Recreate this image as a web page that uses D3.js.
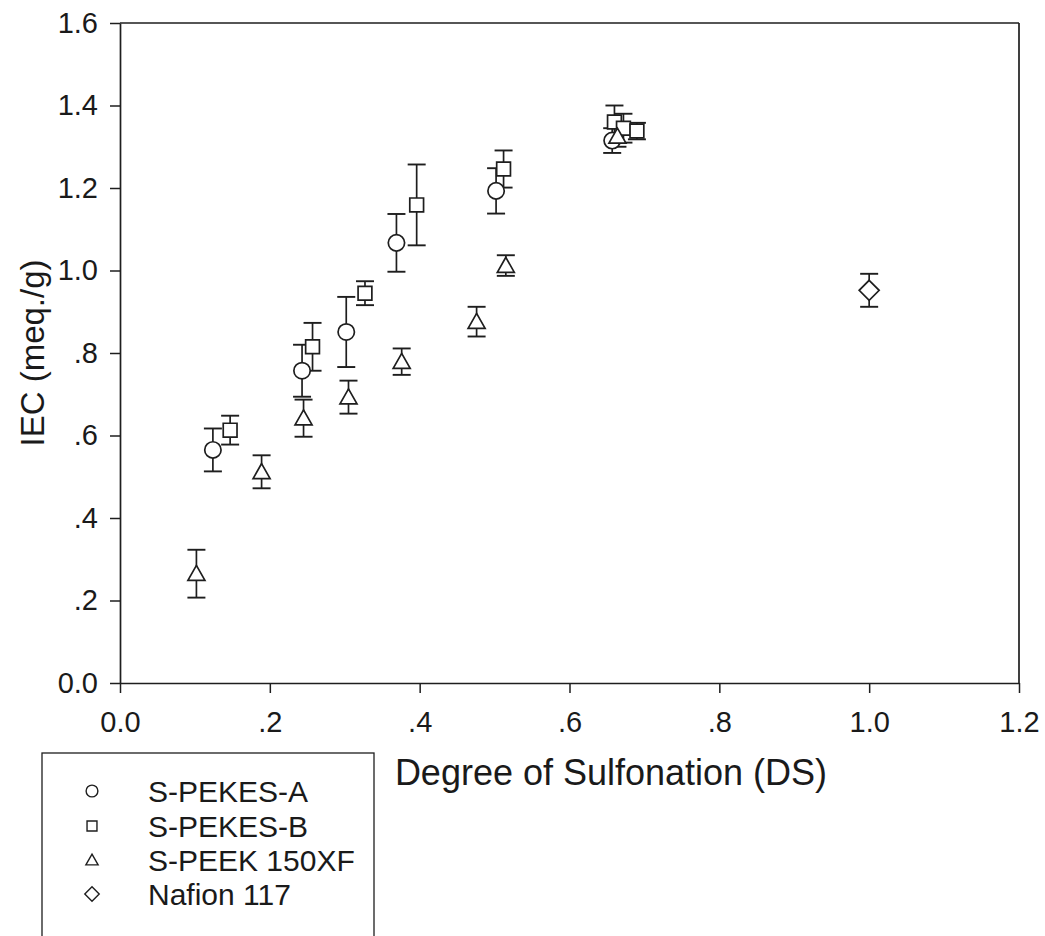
<!DOCTYPE html>
<html>
<head>
<meta charset="utf-8">
<script src="https://cdn.jsdelivr.net/npm/d3@7"></script>
<style>
  body { margin: 0; background: #fff; }
  svg { display: block; font-family: "Liberation Sans", Arial, sans-serif; }
</style>
</head>
<body>
<svg id="chart" width="1045" height="936"></svg>
<script>
// ---- data ----
const seriesNames = ["S-PEKES-A", "S-PEKES-B", "S-PEEK 150XF", "Nafion 117"];
const seriesSymbols = ["circle", "square", "triangle", "diamond"];

// S-PEKES-A : [DS, IEC, error]
const pekesA_ds  = [0.124, 0.243, 0.302, 0.369, 0.502, 0.657];
const pekesA_iec = [0.565, 0.757, 0.851, 1.067, 1.193, 1.315];
const pekesA_err = [0.052, 0.063, 0.085, 0.070, 0.055, 0.030];

// S-PEKES-B
const pekesB_ds  = [0.147, 0.257, 0.327, 0.396, 0.512, 0.660, 0.672, 0.690];
const pekesB_iec = [0.613, 0.815, 0.945, 1.159, 1.246, 1.360, 1.345, 1.338];
const pekesB_err = [0.035, 0.058, 0.029, 0.098, 0.045, 0.040, 0.035, 0.020];

// S-PEEK 150XF
const peek_ds  = [0.102, 0.189, 0.245, 0.305, 0.376, 0.476, 0.515, 0.664];
const peek_iec = [0.265, 0.512, 0.642, 0.693, 0.779, 0.876, 1.012, 1.325];
const peek_err = [0.058, 0.040, 0.045, 0.040, 0.032, 0.036, 0.025, 0.025];

// Nafion 117
const nafion_ds  = [1.0];
const nafion_iec = [0.952];
const nafion_err = [0.040];

const xTickValues = [0, 0.2, 0.4, 0.6, 0.8, 1.0, 1.2];
const xTickLabels = ["0.0", ".2", ".4", ".6", ".8", "1.0", "1.2"];
const yTickValues = [0, 0.2, 0.4, 0.6, 0.8, 1.0, 1.2, 1.4, 1.6];
const yTickLabels = ["0.0", ".2", ".4", ".6", ".8", "1.0", "1.2", "1.4", "1.6"];

const xTitle = "Degree of Sulfonation (DS)";
const yTitle = "IEC (meq./g)";

(function () {
// ---- build ----
function zip(ds, iec, err) { return ds.map((d, i) => ({ x: d, y: iec[i], e: err[i] })); }
const series = [
  zip(pekesA_ds, pekesA_iec, pekesA_err),
  zip(pekesB_ds, pekesB_iec, pekesB_err),
  zip(peek_ds, peek_iec, peek_err),
  zip(nafion_ds, nafion_iec, nafion_err)
];

const svg = d3.select("#chart");
const ink = "#1e1e1e";
const pLeft = 120, pRight = 1019, pTop = 23, pBottom = 683;

const x = d3.scaleLinear().domain([0, 1.2]).range([pLeft, pRight]);
const y = d3.scaleLinear().domain([0, 1.6]).range([pBottom, pTop]);

// frame (top & right)
svg.append("line").attr("x1", pLeft).attr("x2", pRight).attr("y1", pTop).attr("y2", pTop)
  .attr("stroke", ink).attr("stroke-width", 1.7);
svg.append("line").attr("x1", pRight).attr("x2", pRight).attr("y1", pTop).attr("y2", pBottom)
  .attr("stroke", ink).attr("stroke-width", 1.7);

const xAxis = d3.axisBottom(x).tickValues(xTickValues)
  .tickFormat((d, i) => xTickLabels[i]).tickSize(10).tickPadding(18).tickSizeOuter(0);
const yAxis = d3.axisLeft(y).tickValues(yTickValues)
  .tickFormat((d, i) => yTickLabels[i]).tickSize(10).tickPadding(12).tickSizeOuter(0);

const gx = svg.append("g").attr("transform", `translate(0,${pBottom})`).call(xAxis);
const gy = svg.append("g").attr("transform", `translate(${pLeft},0)`).call(yAxis);
[gx, gy].forEach(g => {
  g.select(".domain").attr("stroke", ink).attr("stroke-width", 1.7);
  g.selectAll(".tick line").attr("stroke", ink).attr("stroke-width", 1.5);
  g.selectAll(".tick text").attr("fill", "#1a1a1a").style("font-size", "29px")
    .style("font-family", "'Liberation Sans', Arial, sans-serif");
});

// titles
svg.append("text").attr("x", 611).attr("y", 785).attr("text-anchor", "middle")
  .attr("fill", "#1a1a1a").style("font-size", "36px").text(xTitle);
svg.append("text").attr("transform", "translate(44,353) rotate(-90)").attr("text-anchor", "middle")
  .attr("fill", "#1a1a1a").style("font-size", "33px").text(yTitle);

// symbols
function symbolPath(type, scale) {
  const s = scale || 1;
  if (type === "circle") return d3.symbol(d3.symbolCircle, 210 * s * s)();
  if (type === "square") return d3.symbol(d3.symbolSquare, 190 * s * s)();
  if (type === "triangle") {
    const w = 8.5 * s, h = 15 * s;
    return `M0,${-h * 0.55}L${w},${h * 0.45}L${-w},${h * 0.45}Z`;
  }
  if (type === "diamond") {
    const r = 10 * s;
    return `M0,${-r}L${r},0L0,${r}L${-r},0Z`;
  }
}

const capW = 9;
series.forEach((pts) => {
  const g = svg.append("g");
  const eb = g.selectAll("g.eb").data(pts).enter().append("g");
  eb.append("line").attr("x1", d => x(d.x)).attr("x2", d => x(d.x))
    .attr("y1", d => y(d.y + d.e)).attr("y2", d => y(d.y - d.e))
    .attr("stroke", ink).attr("stroke-width", 1.7);
  eb.append("line").attr("x1", d => x(d.x) - capW).attr("x2", d => x(d.x) + capW)
    .attr("y1", d => y(d.y + d.e)).attr("y2", d => y(d.y + d.e))
    .attr("stroke", ink).attr("stroke-width", 1.9);
  eb.append("line").attr("x1", d => x(d.x) - capW).attr("x2", d => x(d.x) + capW)
    .attr("y1", d => y(d.y - d.e)).attr("y2", d => y(d.y - d.e))
    .attr("stroke", ink).attr("stroke-width", 1.9);
});
series.forEach((pts, si) => {
  svg.append("g").selectAll("path").data(pts).enter().append("path")
    .attr("d", symbolPath(seriesSymbols[si]))
    .attr("transform", d => `translate(${x(d.x)},${y(d.y)})`)
    .attr("fill", "#fff").attr("stroke", ink).attr("stroke-width", 1.7);
});

// legend
const lg = svg.append("g");
lg.append("rect").attr("x", 42).attr("y", 753).attr("width", 332).attr("height", 200)
  .attr("fill", "none").attr("stroke", ink).attr("stroke-width", 1.3);
const rowY = [791, 826, 860, 894];
seriesNames.forEach((name, i) => {
  lg.append("path").attr("d", symbolPath(seriesSymbols[i], 0.72))
    .attr("transform", `translate(92,${rowY[i]})`)
    .attr("fill", "#fff").attr("stroke", ink).attr("stroke-width", 1.4);
  lg.append("text").attr("x", 148).attr("y", rowY[i]).attr("dy", "0.36em")
    .attr("fill", "#1a1a1a").style("font-size", "30px").text(name);
});
})();
</script>
</body>
</html>
